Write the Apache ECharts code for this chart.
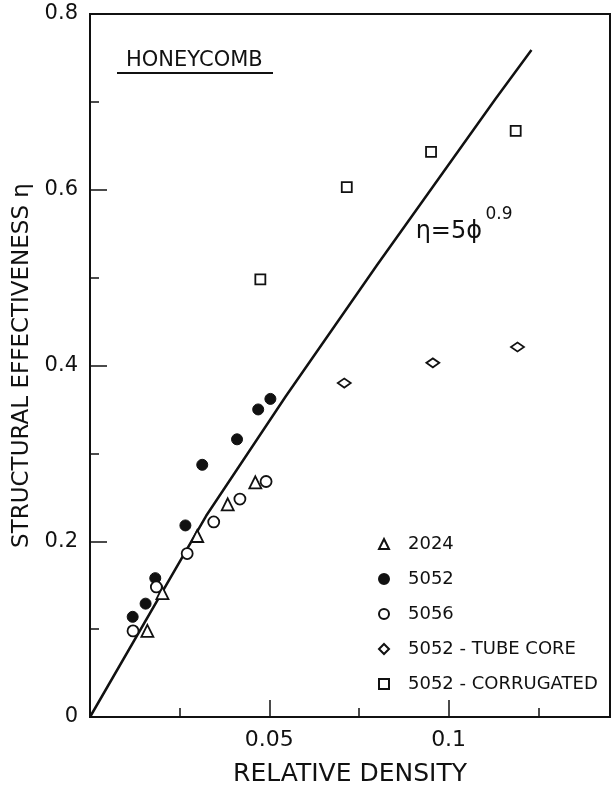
<!DOCTYPE html>
<html>
<head>
<meta charset="utf-8">
<script src="https://cdn.jsdelivr.net/npm/echarts@6/dist/echarts.min.js"></script>
<style>
  html, body { margin: 0; padding: 0; background: #fff; }
  #chart { width: 616px; height: 792px; }
</style>
</head>
<body>
<div id="chart"></div>
<script>
// values: [relative density, structural effectiveness]
const pts2024 = [[0.0160, 0.098], [0.0202, 0.141], [0.0299, 0.206], [0.0384, 0.242], [0.0461, 0.267]];
const pts5052 = [[0.0119, 0.114], [0.0155, 0.129], [0.0182, 0.158], [0.0266, 0.218],
                 [0.0313, 0.287], [0.0410, 0.316], [0.0469, 0.350], [0.0503, 0.362]];
const pts5056 = [[0.0120, 0.098], [0.0185, 0.148], [0.0271, 0.186], [0.0345, 0.222],
                 [0.0418, 0.248], [0.0491, 0.268]];
const ptsTube = [[0.0709, 0.380], [0.0956, 0.403], [0.1192, 0.421]];
const ptsCorr = [[0.0475, 0.498], [0.0716, 0.603], [0.0951, 0.643], [0.1187, 0.667]];
// fitted curve eta = 5 phi^0.9
const fitLine = [[0, 0], [0.0324, 0.229], [0.0546, 0.365], [0.08, 0.514],
                 [0.113, 0.703], [0.1231, 0.759]];

const seriesNames = ['2024', '5052', '5056', '5052 - TUBE CORE', '5052 - CORRUGATED'];
const xLabels = [0.05, 0.1];

const FONT = 'DejaVu Sans';
const INK = '#111';

const chart = echarts.init(document.getElementById('chart'), null, { renderer: 'canvas' });

const openStyle = { color: '#fff', borderColor: INK, borderWidth: 1.8, opacity: 1 };
const solidStyle = { color: INK, borderColor: INK, borderWidth: 1, opacity: 1 };

chart.setOption({
  animation: false,
  backgroundColor: '#fff',
  textStyle: { fontFamily: FONT, color: INK },
  grid: {
    left: 90, top: 14, right: 6, bottom: 69,
    show: true, borderColor: INK, borderWidth: 2, backgroundColor: 'transparent',
  },
  legend: {
    data: seriesNames,
    orient: 'vertical',
    left: 378, top: 534,
    padding: 0,
    itemWidth: 10, itemHeight: 10, itemGap: 15,
    textStyle: { fontFamily: FONT, fontSize: 18, lineHeight: 20, color: INK, padding: [0, 0, 0, 14] },
  },
  xAxis: [
    {
      type: 'value', min: 0, max: 0.145, interval: 0.05,
      name: 'RELATIVE DENSITY', nameLocation: 'middle', nameGap: 45,
      nameTextStyle: { fontFamily: FONT, fontSize: 25, color: INK },
      axisLine: { lineStyle: { color: INK, width: 2 } },
      axisTick: { inside: true, length: 17, lineStyle: { color: INK, width: 1.5 } },
      axisLabel: {
        fontFamily: FONT, fontSize: 22, color: INK, margin: 12,
        formatter: v => (xLabels.some(l => Math.abs(l - v) < 1e-9) ? String(v) : ''),
      },
      splitLine: { show: false },
    },
    {
      type: 'value', min: 0, max: 0.145, interval: 0.025, position: 'bottom',
      axisLine: { show: false },
      axisTick: { inside: true, length: 9, lineStyle: { color: INK, width: 1.5 } },
      axisLabel: { show: false },
      splitLine: { show: false },
    },
  ],
  yAxis: {
    type: 'value', min: 0, max: 0.8, interval: 0.2,
    name: 'STRUCTURAL EFFECTIVENESS η', nameLocation: 'middle', nameGap: 56,
    nameTextStyle: { fontFamily: FONT, fontSize: 23, color: INK },
    axisLine: { lineStyle: { color: INK, width: 2 } },
    axisTick: { inside: true, length: 17, lineStyle: { color: INK, width: 1.5 } },
    minorTick: { show: true, splitNumber: 2, length: 9, lineStyle: { color: INK, width: 1.5 } },
    axisLabel: { fontFamily: FONT, fontSize: 21, color: INK, margin: 12 },
    splitLine: { show: false },
    minorSplitLine: { show: false },
  },
  series: [
    {
      name: 'fit', type: 'line', data: fitLine, showSymbol: false, symbol: 'none',
      lineStyle: { color: INK, width: 2.5 }, silent: true, z: 1,
    },
    { name: seriesNames[0], type: 'scatter', data: pts2024, symbol: 'triangle', symbolSize: 12, itemStyle: openStyle, z: 3 },
    { name: seriesNames[1], type: 'scatter', data: pts5052, symbol: 'circle', symbolSize: 11, itemStyle: solidStyle, z: 3 },
    { name: seriesNames[2], type: 'scatter', data: pts5056, symbol: 'circle', symbolSize: 11, itemStyle: openStyle, z: 3 },
    { name: seriesNames[3], type: 'scatter', data: ptsTube, symbol: 'diamond', symbolSize: [13, 9], itemStyle: openStyle, z: 3 },
    { name: seriesNames[4], type: 'scatter', data: ptsCorr, symbol: 'rect', symbolSize: 10, itemStyle: openStyle, z: 3 },
    {
      // equation annotation beside the fitted curve
      name: 'eq', type: 'scatter', symbolSize: 0, silent: true,
      itemStyle: { opacity: 1 },
      data: [
        { value: [0.0908, 0.552], label: { formatter: 'η=5ϕ', fontSize: 24 } },
        { value: [0.1103, 0.572], label: { formatter: '0.9', fontSize: 17 } },
      ],
      label: {
        show: true, position: [0, 0], align: 'left', verticalAlign: 'middle',
        fontFamily: FONT, color: INK, opacity: 1,
      },
    },
  ],
  graphic: [
    {
      type: 'text', x: 126, y: 61,
      style: { text: 'HONEYCOMB', fontFamily: FONT, fontSize: 21, fill: INK, verticalAlign: 'middle' },
    },
    {
      type: 'line', shape: { x1: 117, y1: 73, x2: 273, y2: 73 },
      style: { stroke: INK, lineWidth: 2 },
    },
  ],
});
</script>
</body>
</html>
